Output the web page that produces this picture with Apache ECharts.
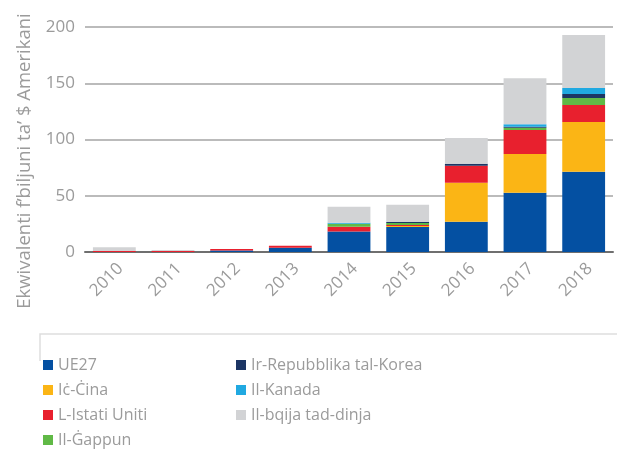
<!DOCTYPE html>
<html lang="mt">
  <head>
    <meta charset="utf-8" />
    <title>Ekwivalenti f'biljuni ta' $ Amerikani</title>
    <script src="https://cdn.jsdelivr.net/npm/echarts@6/dist/echarts.min.js"></script>
    <style>
      * { margin: 0; padding: 0; }
      html, body, #chart { width: 617px; height: 453px; overflow: hidden; background: #fff; }
    </style>
  </head>
  <body>
    <div id="chart"></div>
    <script>
      // years on the x axis
      var years = ["2010", "2011", "2012", "2013", "2014", "2015", "2016", "2017", "2018"];
      var yTicks = [0, 50, 100, 150, 200];

      // values per region, billions USD equivalent
      var ue27   = [0,   0,   1.3, 3.8, 18.3, 22.2, 26.9, 52.6, 71.3];
      var cina   = [0,   0,   0,   0,   0,    0.9,  34.6, 34.6, 44.3];
      var usa    = [0.8, 0.8, 1.3, 1.8, 4.1,  0.9,  15.1, 21.3, 15.1];
      var gappun = [0,   0,   0,   0,   2.7,  1.8,  0,    2.0,  6.2];
      var korea  = [0,   0,   0,   0,   0,    0.9,  1.8,  0.9,  3.5];
      var kanada = [0,   0,   0,   0,   0.9,  0,    0,    2.2,  5.4];
      var rest   = [3.5, 0.9, 0,   0,   14.2, 15.3, 23.0, 40.9, 47.0];

      var names = ["UE27", "Iċ-Ċina", "L-Istati Uniti", "Il-Ġappun",
                   "Ir-Repubblika tal-Korea", "Il-Kanada", "Il-bqija tad-dinja"];
      var colours = ["#0450a2", "#fbb515", "#e8202e", "#60b946", "#1c3564", "#20a9e1", "#d2d3d5"];
      var values = [ue27, cina, usa, gappun, korea, kanada, rest];

      var font = "Open Sans";
      var grey = "#9b9b9b";

      var chart = echarts.init(document.getElementById("chart"));

      var series = names.map(function (n, i) {
        return {
          name: n,
          type: "bar",
          stack: "total",
          barWidth: "73%",
          data: values[i],
          itemStyle: { color: colours[i] }
        };
      });

      var legendText = { color: grey, fontSize: 16, lineHeight: 16, fontFamily: font };

      chart.setOption({
        animation: false,
        textStyle: { fontFamily: font },
        grid: { left: 85, right: 4, top: 27, bottom: 201 },
        xAxis: {
          type: "category",
          data: years,
          axisLine: { lineStyle: { color: "#6f6f6f", width: 2 } },
          axisTick: { inside: true, length: 5, lineStyle: { color: "#8a8a8a", width: 1.5 } },
          axisLabel: { rotate: 45, color: grey, fontSize: 17, margin: 8, verticalAlign: "top" }
        },
        yAxis: {
          type: "value",
          min: yTicks[0],
          max: yTicks[yTicks.length - 1],
          interval: 50,
          axisLine: { show: false },
          axisTick: { show: false },
          axisLabel: { color: grey, fontSize: 17, margin: 10 },
          splitLine: { lineStyle: { color: "#a5a5a5", width: 1.5 } }
        },
        legend: [
          {
            data: names.slice(0, 4),
            orient: "vertical",
            left: 43, top: 357, height: 100, padding: 0,
            icon: "rect", itemWidth: 10, itemHeight: 10, itemGap: 9,
            textStyle: legendText,
            selectedMode: false
          },
          {
            data: names.slice(4),
            orient: "vertical",
            left: 236, top: 357, height: 100, padding: 0,
            icon: "rect", itemWidth: 10, itemHeight: 10, itemGap: 9,
            textStyle: legendText,
            selectedMode: false
          }
        ],
        graphic: [
          {
            type: "text",
            x: 25, y: 161,
            rotation: Math.PI / 2,
            style: {
              text: "Ekwivalenti f’biljuni ta’ $ Amerikani",
              fill: grey, fontSize: 18.5, fontFamily: font,
              align: "center", verticalAlign: "middle"
            }
          },
          {
            type: "polyline",
            shape: { points: [[40, 361], [40, 334], [617, 334]] },
            style: { stroke: "#dedede", lineWidth: 1.5, fill: null }
          }
        ],
        series: series
      });
    </script>
  </body>
</html>
